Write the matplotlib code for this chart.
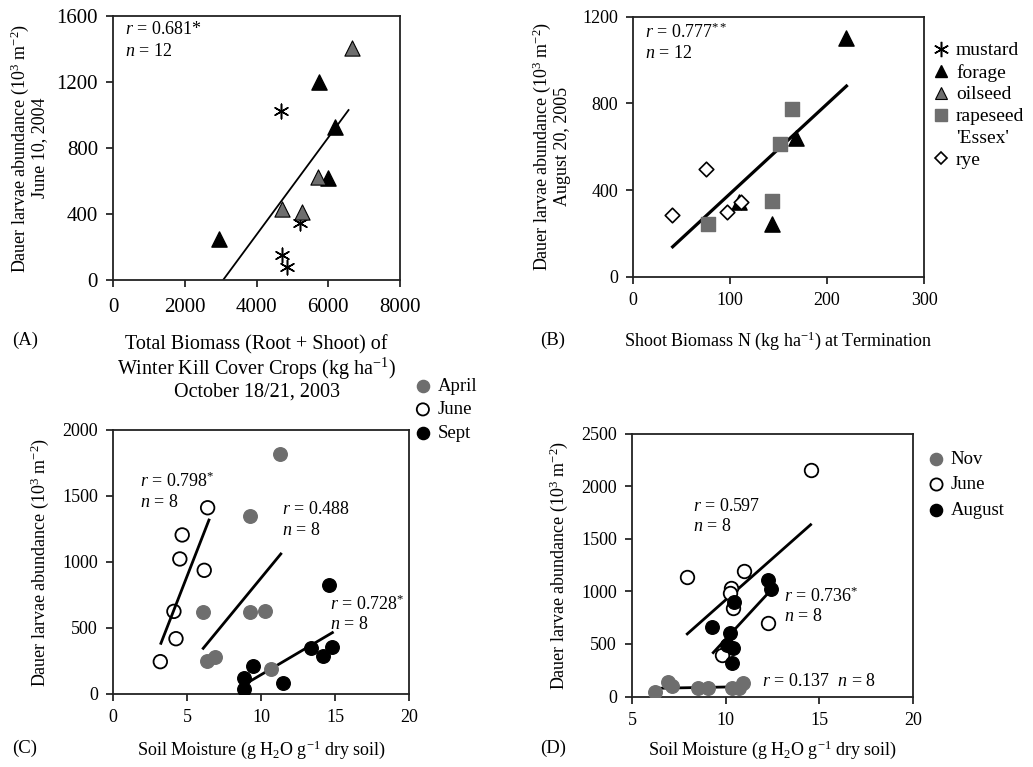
import matplotlib
matplotlib.use("Agg")
import matplotlib.pyplot as plt
from matplotlib.lines import Line2D

plt.rcParams['font.family'] = ['Liberation Serif', 'DejaVu Serif']
plt.rcParams['mathtext.fontset'] = 'custom'
plt.rcParams['mathtext.rm'] = 'Liberation Serif'
plt.rcParams['mathtext.it'] = 'Liberation Serif:italic'
plt.rcParams['mathtext.bf'] = 'Liberation Serif:bold'
plt.rcParams['font.size'] = 13

GRAY = '#6e6e6e'

# ---------------- Panel A data ----------------
a_mustard_x = [4680, 5220, 4700, 4840]
a_mustard_y = [1026, 347, 152, 81]
a_forage_x = [5730, 6185, 6000, 2945]
a_forage_y = [1202, 929, 616, 247]
a_oilseed_x = [6657, 5704, 4694, 5269]
a_oilseed_y = [1408, 622, 430, 410]
a_fit_x = [3064, 6564]
a_fit_y = [0, 1030]

# ---------------- Panel B data ----------------
b_forage_x = [220, 168, 109, 143]
b_forage_y = [1103, 641, 346, 242]
b_rape_x = [164, 151.5, 142.7, 77.3]
b_rape_y = [774, 612, 349, 242]
b_rye_x = [75, 40, 97, 111]
b_rye_y = [496, 285, 300, 343]
b_fit_x = [40.6, 220]
b_fit_y = [138, 880]

# ---------------- Panel C data ----------------
c_june_x = [6.38, 4.66, 4.5, 6.15, 4.1, 4.24, 3.18]
c_june_y = [1411, 1205, 1023, 937, 626, 419, 245]
c_april_x = [11.28, 9.24, 6.08, 9.24, 10.25, 6.31, 6.87, 10.7]
c_april_y = [1816, 1348, 619, 619, 631, 252, 278, 187]
c_sept_x = [14.6, 13.4, 14.82, 14.19, 9.46, 8.85, 8.85, 11.45]
c_sept_y = [826, 346, 354, 290, 212, 124, 38, 86]
c_june_fit_x = [3.22, 6.47]
c_june_fit_y = [384, 1318]
c_april_fit_x = [6.08, 11.33]
c_april_fit_y = [346, 1061]
c_sept_fit_x = [9.01, 14.82]
c_sept_fit_y = [81, 465]

# ---------------- Panel D data ----------------
d_june_x = [14.54, 7.91, 10.99, 10.26, 10.22, 10.4, 12.27, 9.78]
d_june_y = [2150, 1140, 1190, 1030, 983, 840, 697, 395]
d_aug_x = [12.27, 12.42, 10.44, 9.25, 10.22, 10.05, 10.37, 10.32]
d_aug_y = [1103, 1021, 903, 659, 602, 490, 459, 322]
d_nov_x = [6.21, 6.93, 7.1, 8.53, 9.06, 10.32, 10.72, 10.9]
d_nov_y = [46, 141, 100, 78, 84, 84, 84, 126]
d_june_fit_x = [7.94, 14.54]
d_june_fit_y = [595, 1633]
d_aug_fit_x = [9.33, 12.27]
d_aug_fit_y = [417, 983]
d_nov_fit_x = [6.3, 10.85]
d_nov_fit_y = [78, 93]

W, H = 1033, 767
fig = plt.figure(figsize=(W / 100, H / 100), dpi=100)


def add_ax(l, r, t, b):
    return fig.add_axes([l / W, 1 - b / H, (r - l) / W, (b - t) / H])


def style(ax, ls=13):
    for s in ax.spines.values():
        s.set_linewidth(1.3)
        s.set_color('#222222')
    ax.tick_params(direction='out', length=5, width=1.1, labelsize=ls, pad=6)


YLAB = 'Dauer larvae abundance (10$^{3}$ m$^{-2}$)'

# ---------- A ----------
axA = add_ax(113.3, 400, 16, 280)
style(axA, 15)
axA.tick_params(axis='x', pad=8)
axA.plot(a_fit_x, a_fit_y, color='black', lw=1.3)
axA.scatter(a_mustard_x, a_mustard_y, marker=(6, 2, 0), s=110, color='black', linewidths=1.1, zorder=3)
axA.scatter(a_forage_x, a_forage_y, marker='^', s=120, color='black', zorder=3)
axA.scatter(a_oilseed_x, a_oilseed_y, marker='^', s=120, color=GRAY, edgecolors='black', linewidths=0.8, zorder=3)
axA.set_xlim(0, 8000)
axA.set_ylim(0, 1600)
axA.set_xticks([0, 2000, 4000, 6000, 8000])
axA.set_yticks([0, 400, 800, 1200, 1600])
axA.set_ylabel(YLAB + '\nJune 10, 2004', labelpad=6, linespacing=1.05)
axA.set_xlabel('Total Biomass (Root + Shoot) of\nWinter Kill Cover Crops (kg ha$^{-1}$)\nOctober 18/21, 2003',
               labelpad=13, linespacing=1.05, fontsize=14.5)
axA.text(0.04, 0.93, '$r$ = 0.681*', transform=axA.transAxes, fontsize=13)
axA.text(0.04, 0.85, '$n$ = 12', transform=axA.transAxes, fontsize=13)

# ---------- B ----------
axB = add_ax(633.3, 924, 16.7, 276.7)
style(axB)
axB.plot(b_fit_x, b_fit_y, color='black', lw=2.3)
axB.scatter(b_forage_x, b_forage_y, marker='^', s=120, color='black', zorder=3)
axB.scatter(b_rape_x, b_rape_y, marker='s', s=100, color=GRAY, zorder=3)
axB.scatter(b_rye_x, b_rye_y, marker='D', s=55, facecolors='white', edgecolors='black', linewidths=1.2, zorder=3)
axB.set_xlim(0, 300)
axB.set_ylim(0, 1200)
axB.set_xticks([0, 100, 200, 300])
axB.set_yticks([0, 400, 800, 1200])
axB.set_ylabel(YLAB + '\nAugust 20, 2005', labelpad=8, linespacing=1.05)
axB.set_xlabel('Shoot Biomass N (kg ha$^{-1}$) at Termination', labelpad=15)
axB.text(0.04, 0.92, '$r$ = 0.777$^{**}$', transform=axB.transAxes, fontsize=13)
axB.text(0.04, 0.84, '$n$ = 12', transform=axB.transAxes, fontsize=13)

hB = [
    Line2D([], [], ls='none', marker=(6, 2, 0), ms=11, color='black', mew=1.1),
    Line2D([], [], ls='none', marker='^', ms=9, color='black'),
    Line2D([], [], ls='none', marker='^', ms=9, mfc=GRAY, mec='black', mew=0.8),
    Line2D([], [], ls='none', marker='s', ms=8, color=GRAY),
    Line2D([], [], ls='none', marker='none'),
    Line2D([], [], ls='none', marker='D', ms=6, mfc='white', mec='black', mew=1.2),
]
lB = ['mustard', 'forage', 'oilseed', 'rapeseed', "'Essex'", 'rye']
fig.legend(hB, lB, loc='upper left', bbox_to_anchor=(923 / W, 1 - 34 / H), frameon=False,
           fontsize=14, handlelength=1.0, handletextpad=0.3, labelspacing=0.22, borderaxespad=0)

# ---------- C ----------
axC = add_ax(113.3, 409, 430, 694)
style(axC)
axC.plot(c_june_fit_x, c_june_fit_y, color='black', lw=2)
axC.plot(c_april_fit_x, c_april_fit_y, color='black', lw=2)
axC.plot(c_sept_fit_x, c_sept_fit_y, color='black', lw=2)
axC.scatter(c_april_x, c_april_y, s=95, color=GRAY, zorder=3, label='April')
axC.scatter(c_june_x, c_june_y, s=95, facecolors='none', edgecolors='black', linewidths=1.3, zorder=3, label='June')
axC.scatter(c_sept_x, c_sept_y, s=95, color='black', zorder=3, label='Sept')
axC.set_xlim(0, 20)
axC.set_ylim(0, 2000)
axC.set_xticks([0, 5, 10, 15, 20])
axC.set_yticks([0, 500, 1000, 1500, 2000])
axC.set_ylabel(YLAB, labelpad=8)
axC.set_xlabel('Soil Moisture (g H$_{2}$O g$^{-1}$ dry soil)', labelpad=9)
axC.text(1.8, 1608, '$r$ = 0.798$^{*}$', fontsize=13, va='center')
axC.text(1.8, 1449, '$n$ = 8', fontsize=13, va='center')
axC.text(11.38, 1394, '$r$ = 0.488', fontsize=13, va='center')
axC.text(11.38, 1237, '$n$ = 8', fontsize=13, va='center')
axC.text(14.65, 682, '$r$ = 0.728$^{*}$', fontsize=13, va='center')
axC.text(14.65, 527, '$n$ = 8', fontsize=13, va='center')
axC.legend(loc='upper left', bbox_to_anchor=(406 / W, 1 - 370 / H), bbox_transform=fig.transFigure,
           frameon=False, fontsize=13.5, handlelength=1.0, handletextpad=0.3, labelspacing=0.35,
           borderaxespad=0, scatterpoints=1, markerscale=0.9)

# ---------- D ----------
axD = add_ax(632.3, 912.7, 433.5, 696.5)
style(axD)
axD.plot(d_june_fit_x, d_june_fit_y, color='black', lw=2)
axD.plot(d_aug_fit_x, d_aug_fit_y, color='black', lw=2)
axD.plot(d_nov_fit_x, d_nov_fit_y, color='black', lw=2)
axD.scatter(d_nov_x, d_nov_y, s=95, color=GRAY, zorder=3, label='Nov')
axD.scatter(d_june_x, d_june_y, s=95, facecolors='white', edgecolors='black', linewidths=1.3, zorder=3, label='June')
axD.scatter(d_aug_x, d_aug_y, s=95, color='black', zorder=3, label='August')
axD.set_xlim(5, 20)
axD.set_ylim(0, 2500)
axD.set_xticks([5, 10, 15, 20])
axD.set_yticks([0, 500, 1000, 1500, 2000, 2500])
axD.set_ylabel(YLAB, labelpad=8)
axD.set_xlabel('Soil Moisture (g H$_{2}$O g$^{-1}$ dry soil)', labelpad=7)
axD.text(8.26, 1808, '$r$ = 0.597', fontsize=13, va='center')
axD.text(8.26, 1617, '$n$ = 8', fontsize=13, va='center')
axD.text(13.13, 950, '$r$ = 0.736$^{*}$', fontsize=13, va='center')
axD.text(13.13, 760, '$n$ = 8', fontsize=13, va='center')
axD.text(11.92, 141, '$r$ = 0.137  $n$ = 8', fontsize=13, va='center')
axD.legend(loc='upper left', bbox_to_anchor=(919 / W, 1 - 443 / H), bbox_transform=fig.transFigure,
           frameon=False, fontsize=13.5, handlelength=1.0, handletextpad=0.3, labelspacing=0.45,
           borderaxespad=0, scatterpoints=1, markerscale=0.9)

# panel letters
for lbl, x, y in [('(A)', 12, 340), ('(B)', 540, 340), ('(C)', 12, 748), ('(D)', 540, 748)]:
    fig.text(x / W, 1 - y / H, lbl, fontsize=13.5, va='center', ha='left')

fig.savefig('out.png', dpi=100)
